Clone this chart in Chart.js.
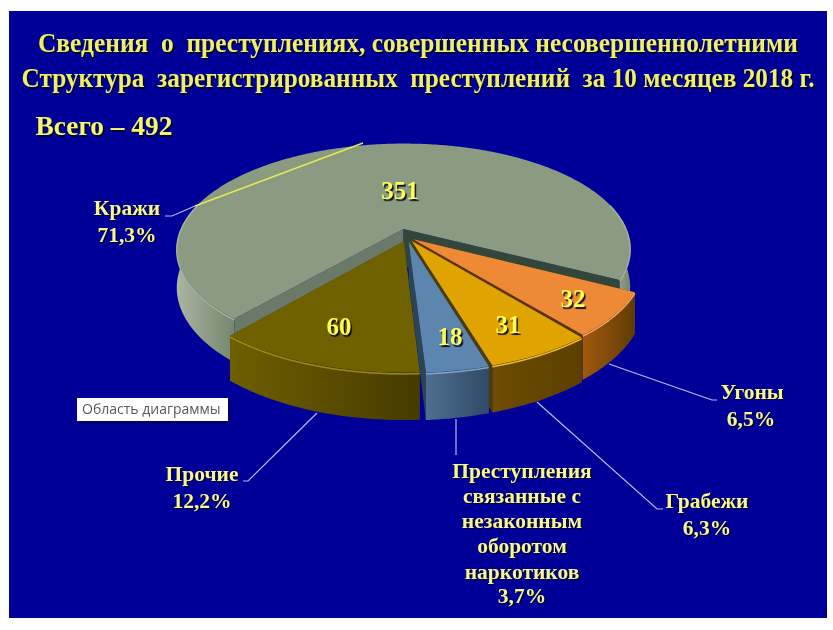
<!DOCTYPE html>
<html>
<head>
<meta charset="utf-8">
<style>
  html, body { margin: 0; background: #fff; }
  #wrap { width: 833px; height: 630px; }
</style>
</head>
<body>
<div id="wrap"><canvas id="chart-crimes" width="833" height="630"></canvas></div>
<script src="https://cdn.jsdelivr.net/npm/chart.js@4"></script>
<script>
const categories = ['Кражи', 'Угоны', 'Грабежи', 'Преступления связанные с незаконным оборотом наркотиков', 'Прочие'];
const counts = [351, 32, 31, 18, 60];
const shares = ['71,3%', '6,5%', '6,3%', '3,7%', '12,2%'];
const titleLines = ['Сведения  о  преступлениях, совершенных несовершеннолетними', 'Структура  зарегистрированных  преступлений  за 10 месяцев 2018 г.'];
const totalLabel = 'Всего – 492';

const topColors = ['#8a9b82', '#ee8a35', '#dfa400', '#5c86ad', '#6f6000'];
const wallLight = ['#aab5a2', '#a2580f', '#6e4c00', '#4f6f90', '#6e5f00'];
const wallDark = ['#75866e', '#5f3d04', '#5a4000', '#2f4a66', '#463b00'];
const sideStart = ['#6b7a68', '#5a3400', '#5a3f00', '#2d4452', '#463b00'];
const sideEnd = ['#33463a', '#5a3400', '#4a3c10', '#2d4452', '#463b00'];
const rimColors = ['#a3b09b', '#f5a45c', '#efbb2a', '#7fa3c6', '#9c8a10'];

// tilt of the disc on screen
const PERSPECTIVE = 0.19;
const SQUASH = 0.462;
const DEPTH = 38;

function project(arc, dx, dy, drop) {
  const k = 1 / (1 + PERSPECTIVE * dy / arc.outerRadius);
  return { x: arc.x + dx * k, y: arc.y - dy * SQUASH * k + drop * k };
}

class Arc3D extends Chart.ArcElement {
  static id = 'arc3d';

  draw(ctx, idx) {
    const { x, y, startAngle, endAngle, outerRadius } = this.getProps(['x', 'y', 'startAngle', 'endAngle', 'outerRadius']);
    const geo = { x, y, outerRadius };
    const mid = (startAngle + endAngle) / 2;
    const ox = Math.cos(mid) * this.options.offset;
    const oy = -Math.sin(mid) * this.options.offset;
    const at = (a, r, drop) => project(geo, ox + Math.cos(a) * r, oy - Math.sin(a) * r, drop);

    const angles = [];
    const steps = Math.ceil((endAngle - startAngle) / 0.01);
    for (let i = 0; i <= steps; i++) angles.push(startAngle + (endAngle - startAngle) * i / steps);

    const poly = (pts, fill) => {
      ctx.beginPath();
      pts.forEach((p, i) => (i ? ctx.lineTo(p.x, p.y) : ctx.moveTo(p.x, p.y)));
      ctx.closePath();
      ctx.fillStyle = fill;
      ctx.fill();
    };

    // cut faces
    const apex = at(0, 0, 0);
    const apexLow = at(0, 0, DEPTH);
    poly([apex, at(startAngle, outerRadius, 0), at(startAngle, outerRadius, DEPTH), apexLow], sideStart[idx]);
    poly([apex, at(endAngle, outerRadius, 0), at(endAngle, outerRadius, DEPTH), apexLow], sideEnd[idx]);

    // outer wall, only the part that faces the viewer
    let run = [];
    const flush = () => {
      if (run.length > 1) {
        const upper = run.map(a => at(a, outerRadius, 0));
        const lower = run.map(a => at(a, outerRadius, DEPTH)).reverse();
        const xs = upper.map(p => p.x);
        const grad = ctx.createLinearGradient(Math.min(...xs), 0, Math.max(...xs), 0);
        grad.addColorStop(0, wallLight[idx]);
        grad.addColorStop(1, wallDark[idx]);
        poly(upper.concat(lower), grad);
      }
      run = [];
    };
    angles.forEach(a => {
      if (Math.sin(a) > -0.25) run.push(a); else flush();
    });
    flush();

    // top face
    poly([apex].concat(angles.map(a => at(a, outerRadius, 0))), topColors[idx]);

    // soft rim on the front edge
    ctx.strokeStyle = rimColors[idx];
    ctx.lineWidth = 1.5;
    ctx.beginPath();
    let pen = false;
    angles.forEach(a => {
      if (Math.sin(a) > -0.25) {
        const p = at(a, outerRadius, 1);
        if (pen) ctx.lineTo(p.x, p.y); else ctx.moveTo(p.x, p.y);
        pen = true;
      } else pen = false;
    });
    ctx.stroke();
  }
}

class Pie3DController extends Chart.PieController {
  static id = 'pie3d';
  static defaults = { dataElementType: 'arc3d' };

  draw() {
    const arcs = this.getMeta().data;
    const frontness = arc => Math.sin((arc.startAngle + arc.endAngle) / 2);
    arcs.map((arc, i) => i)
      .sort((a, b) => frontness(arcs[a]) - frontness(arcs[b]))
      .forEach(i => arcs[i].draw(this.chart.ctx, i));
  }
}

Chart.register(Arc3D, Pie3DController);

const SERIF = '"Liberation Serif", serif';
const YELLOW = '#f7f78e';

function putText(ctx, text, x, y, font, color, maxWidth) {
  ctx.font = font;
  ctx.textAlign = 'center';
  ctx.textBaseline = 'middle';
  ctx.shadowColor = 'rgba(0,0,40,0.9)';
  ctx.shadowOffsetX = 1.5;
  ctx.shadowOffsetY = 1.5;
  ctx.shadowBlur = 1;
  ctx.fillStyle = color;
  if (maxWidth) ctx.fillText(text, x, y, maxWidth);
  else ctx.fillText(text, x, y);
  ctx.shadowColor = 'transparent';
  ctx.shadowOffsetX = 0;
  ctx.shadowOffsetY = 0;
  ctx.shadowBlur = 0;
}

function stroke(ctx, pts, color, width) {
  ctx.beginPath();
  pts.forEach((p, i) => (i ? ctx.lineTo(p[0], p[1]) : ctx.moveTo(p[0], p[1])));
  ctx.strokeStyle = color;
  ctx.lineWidth = width || 1.2;
  ctx.stroke();
}

const backdrop = {
  id: 'backdrop',
  beforeDraw(chart) {
    const { ctx } = chart;
    ctx.save();
    ctx.fillStyle = '#000099';
    ctx.fillRect(9, 11, 818, 607);
    ctx.restore();
  }
};

const annotations = {
  id: 'annotations',
  afterDatasetsDraw(chart) {
    const { ctx } = chart;
    ctx.save();

    // header
    putText(ctx, titleLines[0], 418, 45, 'bold 28px ' + SERIF, '#f0f060', 760);
    putText(ctx, titleLines[1], 418, 80, 'bold 28px ' + SERIF, '#f0f060', 793);
    putText(ctx, totalLabel, 104, 128, 'bold 28px ' + SERIF, '#f7f76a', 137);

    // leader lines
    const lead = '#b4bcec';
    stroke(ctx, [[165, 216], [172, 216], [195, 206]], lead);
    stroke(ctx, [[195, 206], [363, 143]], '#e6e85a', 1.5);
    stroke(ctx, [[609, 364], [712, 400], [717, 400]], lead);
    stroke(ctx, [[537, 402], [657, 509], [663, 509]], lead);
    stroke(ctx, [[456, 419], [456, 455]], lead);
    stroke(ctx, [[317, 413], [248, 481], [243, 481]], lead);

    // values on the slices
    const valueAt = [[400, 193], [573, 301], [508, 327], [450, 339], [339, 329]];
    counts.forEach((v, i) => {
      putText(ctx, String(v), valueAt[i][0], valueAt[i][1], 'bold 25px ' + SERIF, '#ffff4d');
    });

    // category labels
    const font = 'bold 21.5px ' + SERIF;
    putText(ctx, categories[0], 127, 209, font, YELLOW);
    putText(ctx, shares[0], 127, 236, font, YELLOW);
    putText(ctx, categories[1], 752, 393, font, YELLOW);
    putText(ctx, shares[1], 751, 420, font, YELLOW);
    putText(ctx, categories[2], 707, 502, font, YELLOW);
    putText(ctx, shares[2], 707, 529, font, YELLOW);
    putText(ctx, categories[4], 202, 475, font, YELLOW);
    putText(ctx, shares[4], 202, 502, font, YELLOW);
    const wrapped = ['Преступления', 'связанные с', 'незаконным', 'оборотом', 'наркотиков'];
    const rows = [472, 497, 522, 547, 573];
    wrapped.forEach((line, i) => putText(ctx, line, 522, rows[i], font, YELLOW));
    putText(ctx, shares[3], 522, 597, font, YELLOW);

    // editor hover tag captured in the screenshot
    ctx.shadowColor = 'rgba(0,0,0,0.35)';
    ctx.shadowOffsetX = 2;
    ctx.shadowOffsetY = 2;
    ctx.shadowBlur = 3;
    ctx.fillStyle = '#fff';
    ctx.fillRect(77, 398, 151, 23);
    ctx.shadowColor = 'transparent';
    ctx.shadowOffsetX = 0;
    ctx.shadowOffsetY = 0;
    ctx.shadowBlur = 0;
    ctx.font = '14px "Open Sans", sans-serif';
    ctx.textAlign = 'left';
    ctx.textBaseline = 'middle';
    ctx.fillStyle = '#595959';
    ctx.fillText('Область диаграммы', 82, 410, 142);

    ctx.restore();
  }
};

new Chart(document.getElementById('chart-crimes'), {
  type: 'pie3d',
  data: {
    labels: categories,
    datasets: [{
      data: counts,
      backgroundColor: topColors,
      offset: [18, 8, 10, 10, 10],
      radius: 226,
      rotation: 220.5
    }]
  },
  options: {
    responsive: false,
    animation: false,
    layout: { padding: { left: 0, right: 19, top: 0, bottom: 156 } },
    plugins: {
      legend: { display: false },
      tooltip: { enabled: false }
    }
  },
  plugins: [backdrop, annotations]
});
</script>
</body>
</html>
